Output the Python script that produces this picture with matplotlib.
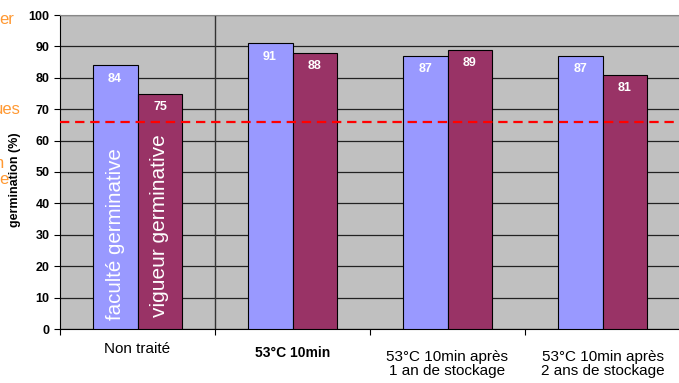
import matplotlib.pyplot as plt

categories = ['Non traité', '53°C 10min', '53°C 10min après\n1 an de stockage', '53°C 10min après\n2 ans de stockage']
faculte = [84, 91, 87, 87]
vigueur = [75, 88, 89, 81]
seuil = 66
yticks = list(range(0, 101, 10))

plt.rcParams['font.family'] = ['Liberation Sans', 'DejaVu Sans']

fig = plt.figure(figsize=(6.79, 3.83), dpi=100)
ax = fig.add_axes([60 / 679, 1 - 329 / 383, 620 / 679, 314 / 383])
ax.set_facecolor('#C0C0C0')

centers = [i + 0.5 for i in range(len(categories))]
w = 0.29
blue = ax.bar([c - w / 2 for c in centers], faculte, width=w, color='#9999FF',
              edgecolor='black', linewidth=0.8, zorder=3)
red = ax.bar([c + w / 2 for c in centers], vigueur, width=w, color='#993366',
             edgecolor='black', linewidth=0.8, zorder=3)

for bars in (blue, red):
    for b in bars:
        ax.annotate(str(int(b.get_height())), (b.get_x() + b.get_width() / 2, b.get_height()),
                    xytext=(0, -5.5), textcoords='offset points', ha='center', va='top',
                    color='white', fontweight='bold', fontsize=9, zorder=5)

# labels written inside the first group
ax.text(centers[0] - w / 2, 2.9, 'faculté germinative', rotation=90, color='white',
        fontsize=14.8, ha='center', va='bottom', zorder=5)
ax.text(centers[0] + w / 2, 3.8, 'vigueur germinative', rotation=90, color='white',
        fontsize=15, ha='center', va='bottom', zorder=5)

ax.axhline(seuil, color='#FF0000', lw=1.6, ls=(0, (4.2, 2.6)), zorder=4)
ax.axvline(1, color='#333333', lw=1, zorder=2)

ax.set_xlim(0, 4)
ax.set_ylim(0, 100)
ax.set_yticks(yticks)
ax.set_yticklabels([str(t) for t in yticks], fontweight='bold', fontsize=9)
ax.yaxis.grid(True, color='#222222', lw=0.9, zorder=1)
ax.set_axisbelow(True)
ax.set_xticks(range(5))
ax.set_xticklabels([])
ax.tick_params(axis='both', direction='out', length=4, width=0.8, color='black')

ax.spines['right'].set_visible(False)
ax.spines['top'].set_color('#888888')
ax.spines['left'].set_color('black')
ax.spines['bottom'].set_color('black')

# category labels under the groups
label_style = [
    dict(dy=-9.5, size=11, weight='normal'),
    dict(dy=-12.5, size=10, weight='bold'),
    dict(dy=-15, size=11, weight='normal'),
    dict(dy=-15, size=11, weight='normal'),
]
for c, lab, st in zip(centers, categories, label_style):
    ax.annotate(lab, (c, 0), xycoords=('data', 'axes fraction'), xytext=(0, st['dy']),
                textcoords='offset points', ha='center', va='top', fontsize=st['size'],
                fontweight=st['weight'], linespacing=1.05)

fig.text(15 / 679, 1 - 180 / 383, 'germination (%)', rotation=90, ha='center', va='center',
         fontweight='bold', fontsize=9)

# fragments of slide text cut off on the left
orange = '#FF9933'
fig.text(14 / 679, 1 - 20 / 383, 'er', color=orange, fontsize=12, ha='right', va='center')
fig.text(21 / 679, 1 - 110 / 383, 'ues', color=orange, fontsize=12, ha='right', va='center')
fig.text(4 / 679, 1 - 163 / 383, 'n', color=orange, fontsize=12, ha='right', va='center')
fig.text(8 / 679, 1 - 180 / 383, 'e', color=orange, fontsize=12, ha='right', va='center')

fig.savefig('out.png', dpi=100)
